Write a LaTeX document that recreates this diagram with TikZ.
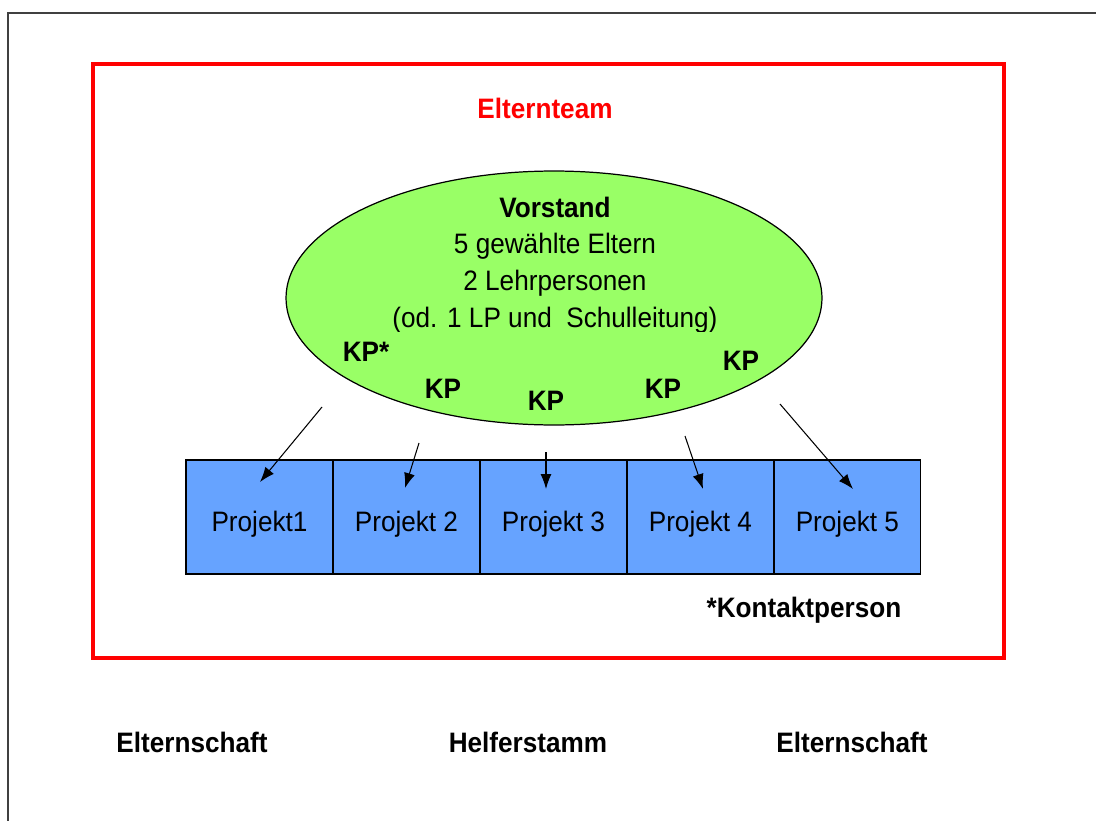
\documentclass[tikz,border=0pt]{standalone}
\usepackage{fontspec}
\setmainfont{Liberation Sans}[FakeStretch=0.93]
\usepackage{tikz}
\usetikzlibrary{positioning,shapes.geometric,arrows.meta}
\tikzstyle{projekt} = [rectangle, draw=black, line width=0.7pt, fill=projektblau, minimum width=2.94cm, minimum height=2.28cm, inner sep=0pt, outer sep=0pt, text height=17pt, text depth=0pt, font=\fontsize{16}{19}\selectfont]
\tikzstyle{kp} = [font=\fontsize{16}{19}\selectfont\bfseries]
\tikzstyle{arrow} = [line width=0.6pt,-{Latex[length=3mm,width=2.2mm]}]

\begin{document}
\begin{tikzpicture}[x=0.02cm,y=-0.02cm]
\definecolor{projektblau}{RGB}{102,163,255}
\definecolor{vorstandgruen}{RGB}{153,255,102}
\useasboundingbox (0,0) rectangle (1096,821);
\draw[color=black!75, line width=1.1pt] (8,830) -- (8,13) -- (1100,13);
\draw[color=red, line width=2.3pt] (93,64) rectangle (1004,658);
\node[kp, text=red] (elternteam) at (545,108) {Elternteam};
\node[ellipse, draw=black, line width=0.7pt, fill=vorstandgruen, minimum width=10.72cm, minimum height=5.08cm] (vorstand) at (554,298) {};
\begin{scope}
\clip (380,150) rectangle (740,331);
\node[align=center, font=\fontsize{16}{20.8}\selectfont] (vorstandtext) at (555,265) {\textbf{Vorstand}\\5 gewählte Eltern\\2 Lehrpersonen\\(od. 1 LP und\ \ Schulleitung)};
\end{scope}
\node[kp] (kp1) at (366,352) {KP*};
\node[kp] (kp2) at (443,389) {KP};
\node[kp] (kp3) at (546,401) {KP};
\node[kp] (kp4) at (663,389) {KP};
\node[kp] (kp5) at (741,361) {KP};
\node[projekt] (p1) at (259.5,517) {Projekt1};
\node[projekt, right=0pt of p1] (p2) {Projekt 2};
\node[projekt, right=0pt of p2] (p3) {Projekt 3};
\node[projekt, right=0pt of p3] (p4) {Projekt 4};
\node[projekt, right=0pt of p4] (p5) {Projekt 5};
\coordinate (s1) at (322,407); \coordinate (e1) at (260,482);
\coordinate (s2) at (419,443); \coordinate (e2) at (405,488);
\coordinate (s3) at (546,452); \coordinate (e3) at (546,489);
\coordinate (s4) at (685,436); \coordinate (e4) at (703,489);
\coordinate (s5) at (780,404); \coordinate (e5) at (853,489);
\draw[arrow] (s1) -- (e1);
\draw[arrow] (s2) -- (e2);
\draw[arrow] (s3) -- (e3);
\draw[arrow] (s4) -- (e4);
\draw[arrow] (s5) -- (e5);
\node[kp] (kontakt) at (804,610) {*Kontaktperson};
\node[kp] (elternschaft1) at (192,742) {Elternschaft};
\node[kp] (helferstamm) at (528,742) {Helferstamm};
\node[kp] (elternschaft2) at (852,742) {Elternschaft};
\end{tikzpicture}
\end{document}
